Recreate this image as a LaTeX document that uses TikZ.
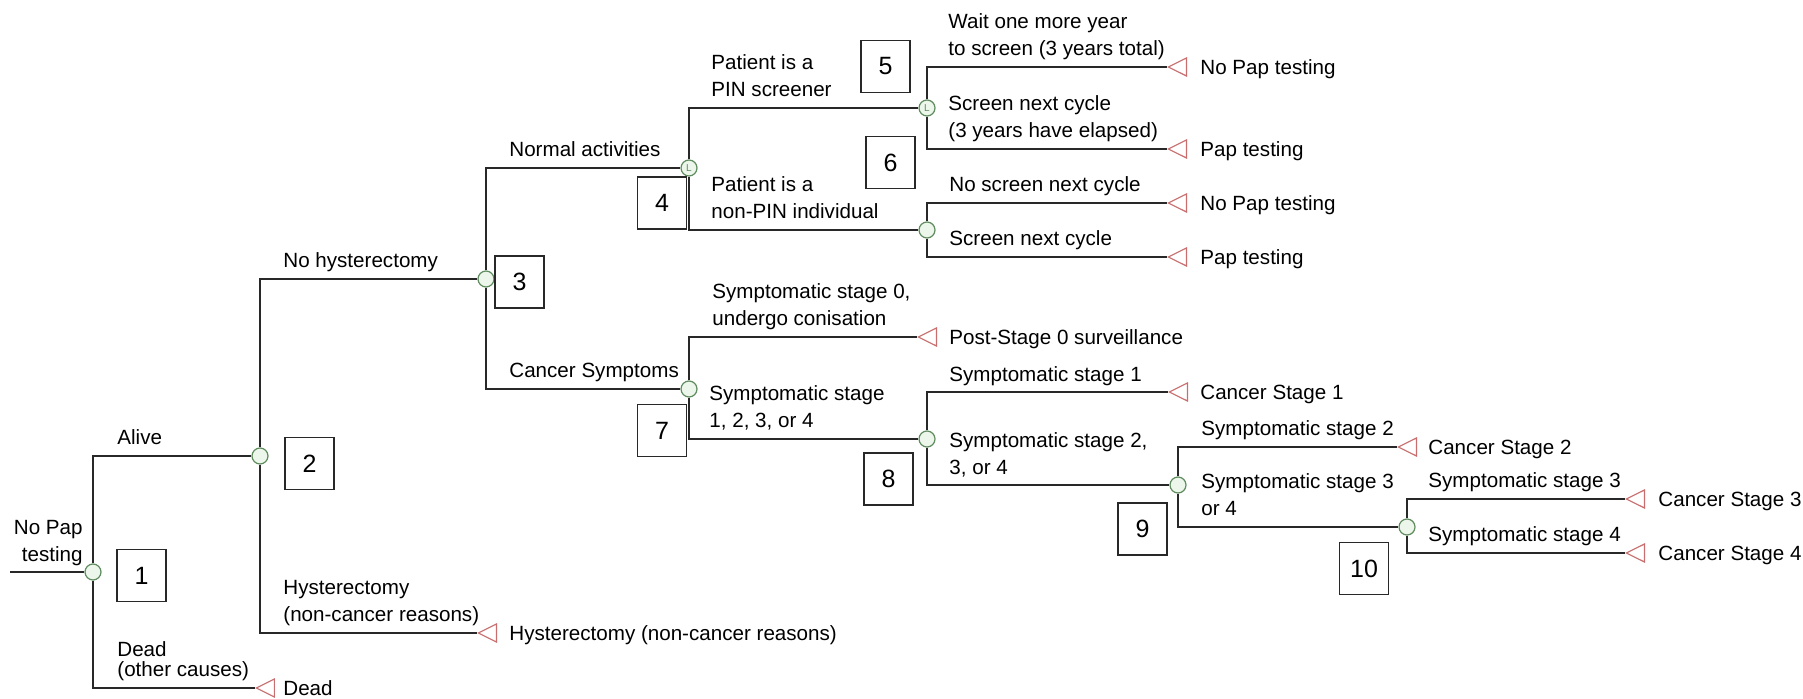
\documentclass[tikz,border=0pt]{standalone}
\usepackage{fontspec}
\setmainfont{Liberation Sans}
\usetikzlibrary{positioning,shapes.geometric}
\definecolor{chanceline}{RGB}{95,140,95}
\definecolor{chancefill}{RGB}{236,246,234}
\definecolor{termline}{RGB}{200,110,110}
\definecolor{branchline}{RGB}{40,40,40}

\begin{document}
\begin{tikzpicture}[x=0.5pt,y=-0.5pt,
  font=\fontsize{10.3}{13.5}\selectfont,
  chance/.style={circle,draw=chanceline,fill=chancefill,line width=0.6pt,minimum size=8pt,inner sep=0pt,font=\fontsize{5}{5}\selectfont\color{chanceline}},
  endpt/.style={isosceles triangle,isosceles triangle apex angle=53,shape border rotate=180,draw=termline,line width=0.6pt,minimum size=9pt,inner sep=0pt,anchor=apex},
  numbox/.style={draw=branchline,line width=0.7pt,minimum width=24.5pt,minimum height=26pt,inner sep=0pt,font=\fontsize{12.5}{14}\selectfont},
  brlabel/.style={anchor=south west,align=left,inner sep=0pt,text depth=0pt},
  outcome/.style={inner sep=0pt,text height=7.4pt,text depth=0pt},
  twig/.style={draw=branchline,line width=0.9pt}]
\useasboundingbox[fill=white] (0,0) rectangle (1803,699);
\node[chance] (ch1) at (93,572) {};
\node[chance] (ch2) at (260,456) {};
\node[chance] (ch3) at (486,279) {};
\node[chance] (ch4) at (689,168) {L};
\node[chance] (ch5) at (927,108) {L};
\node[chance] (ch6) at (927,230) {};
\node[chance] (ch7) at (689,389) {};
\node[chance] (ch8) at (927,439) {};
\node[chance] (ch9) at (1178,485) {};
\node[chance] (ch10) at (1407,527) {};
\node[endpt] (nopap1) at (1167,67) {};
\node[endpt] (pap1) at (1167,149) {};
\node[endpt] (nopap2) at (1167,203) {};
\node[endpt] (pap2) at (1167,257) {};
\node[endpt] (post0) at (917,337) {};
\node[endpt] (stage1) at (1168,392) {};
\node[endpt] (stage2) at (1397,447) {};
\node[endpt] (stage3) at (1625,499) {};
\node[endpt] (stage4) at (1625,553) {};
\node[endpt] (hyst) at (477,633) {};
\node[endpt] (dead) at (255,688) {};
\node[outcome,right=16.5pt of nopap1.apex] (nopap1-txt) {No Pap testing};
\node[outcome,right=16.5pt of pap1.apex] (pap1-txt) {Pap testing};
\node[outcome,right=16.5pt of nopap2.apex] (nopap2-txt) {No Pap testing};
\node[outcome,right=16.5pt of pap2.apex] (pap2-txt) {Pap testing};
\node[outcome,right=16pt of post0.apex] (post0-txt) {Post-Stage 0 surveillance};
\node[outcome,right=16pt of stage1.apex] (stage1-txt) {Cancer Stage 1};
\node[outcome,right=15.5pt of stage2.apex] (stage2-txt) {Cancer Stage 2};
\node[outcome,right=16.5pt of stage3.apex] (stage3-txt) {Cancer Stage 3};
\node[outcome,right=16.5pt of stage4.apex] (stage4-txt) {Cancer Stage 4};
\node[outcome,right=16pt of hyst.apex] (hyst-txt) {Hysterectomy (non-cancer reasons)};
\node[outcome,right=14pt of dead.apex] (dead-txt) {Dead};
\node[brlabel,anchor=south east,align=right] (root-lbl) at (83,562) {No Pap\\testing};
\node[brlabel] (alive-lbl) at (117,445) {Alive};
\node[brlabel] (died-lbl) at (117,677) {Dead\\[-3.5pt](other causes)};
\node[brlabel] (nohyst-lbl) at (283,268) {No hysterectomy};
\node[brlabel] (hyst-lbl) at (283,622) {Hysterectomy\\(non-cancer reasons)};
\node[brlabel] (normal-lbl) at (509,157) {Normal activities};
\node[brlabel] (symp-lbl) at (509,378) {Cancer Symptoms};
\node[brlabel] (pin-lbl) at (711,97) {Patient is a\\PIN screener};
\node[brlabel] (nonpin-lbl) at (711,219) {Patient is a\\non-PIN individual};
\node[brlabel] (wait-lbl) at (948,56) {Wait one more year\\to screen (3 years total)};
\node[brlabel] (next-lbl) at (948,138) {Screen next cycle\\(3 years have elapsed)};
\node[brlabel] (noscr-lbl) at (949,192) {No screen next cycle};
\node[brlabel] (scr-lbl) at (949,246) {Screen next cycle};
\node[brlabel] (st0-lbl) at (712,326) {Symptomatic stage 0,\\undergo conisation};
\node[brlabel] (st14-lbl) at (709,428) {Symptomatic stage\\1, 2, 3, or 4};
\node[brlabel] (st1-lbl) at (949,382) {Symptomatic stage 1};
\node[brlabel] (st24-lbl) at (949,475) {Symptomatic stage 2,\\3, or 4};
\node[brlabel] (st2-lbl) at (1201,436) {Symptomatic stage 2};
\node[brlabel] (st34-lbl) at (1201,516) {Symptomatic stage 3\\or 4};
\node[brlabel] (st3-lbl) at (1428,488) {Symptomatic stage 3};
\node[brlabel] (st4-lbl) at (1428,542) {Symptomatic stage 4};
\node[numbox] (box1) at (141.5,575.5) {1};
\node[numbox] (box2) at (309.5,463.5) {2};
\node[numbox] (box3) at (519.5,282) {3};
\node[numbox] (box4) at (662,203) {4};
\node[numbox] (box5) at (885.5,66.5) {5};
\node[numbox] (box6) at (890.5,162.5) {6};
\node[numbox] (box7) at (662,430.5) {7};
\node[numbox] (box8) at (888.5,479) {8};
\node[numbox] (box9) at (1142.5,529) {9};
\node[numbox] (box10) at (1364,568.5) {10};
\coordinate (start) at (10,572);
\draw[twig] (start) -- (ch1);
\foreach \from/\to in {ch1/ch2,ch1/dead.apex,ch2/ch3,ch2/hyst.apex,ch3/ch4,ch3/ch7,
  ch4/ch5,ch4/ch6,ch5/nopap1.apex,ch5/pap1.apex,ch6/nopap2.apex,ch6/pap2.apex,
  ch7/post0.apex,ch7/ch8,ch8/stage1.apex,ch8/ch9,ch9/stage2.apex,ch9/ch10,
  ch10/stage3.apex,ch10/stage4.apex}
  \draw[twig] (\from) |- (\to);
\end{tikzpicture}
\end{document}
